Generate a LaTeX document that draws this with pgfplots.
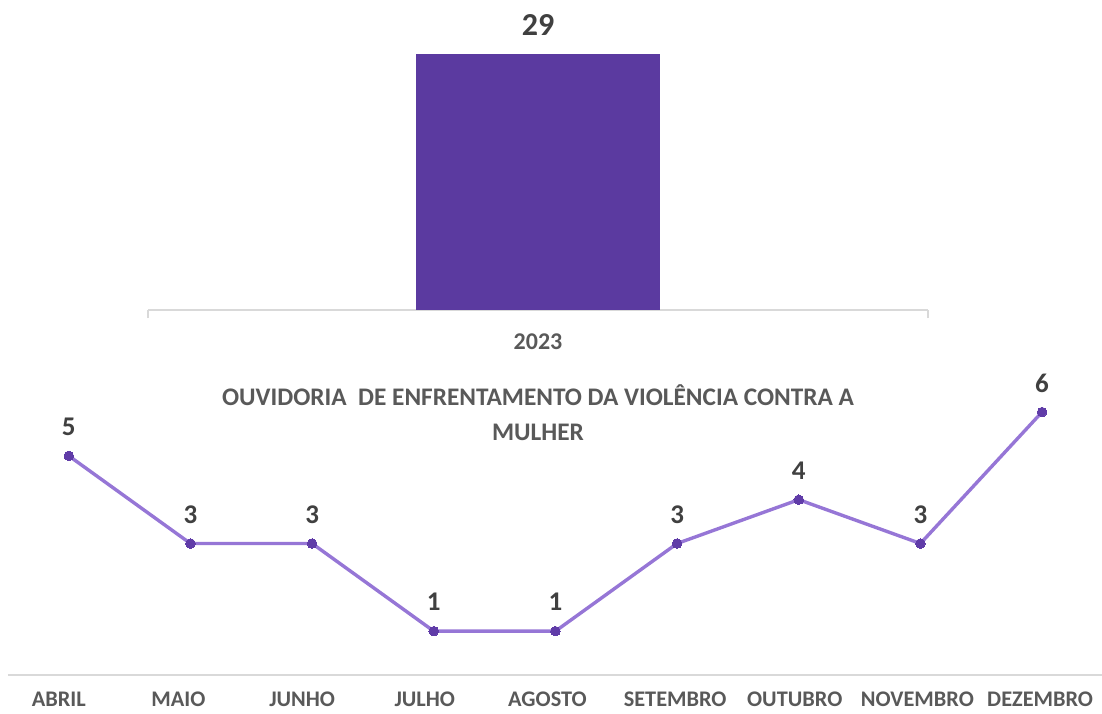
\documentclass[border=0pt]{standalone}
\usepackage{fontspec}
\setmainfont{Carlito}
\usepackage{pgfplots}
\pgfplotsset{compat=1.18}
\definecolor{barcol}{RGB}{91,58,160}
\definecolor{linecol}{RGB}{150,118,214}
\definecolor{markcol}{RGB}{96,60,168}
\definecolor{axisgray}{RGB}{217,217,217}
\definecolor{labgray}{RGB}{89,89,89}
\definecolor{valgray}{RGB}{64,64,64}
\begin{document}
\begin{tikzpicture}[x=1pt,y=1pt]
\useasboundingbox (0,0) rectangle (1102,713);
% top bar chart
\begin{axis}[
  at={(538pt,403pt)}, anchor=origin,
  scale only axis, width=780pt, height=256pt,
  xmin=-1, xmax=1, ymin=0, ymax=29,
  clip=false,
  /pgf/number format/assume math mode=true,
  axis x line*=bottom, axis y line=none,
  x axis line style={draw=axisgray, line width=1.3pt},
  xtick={0}, xticklabels={2023},
  major tick length=0pt,
  extra x ticks={-1,1}, extra x tick labels={},
  extra x tick style={major tick length=8pt, tick align=outside, tick style={draw=axisgray, line width=1.3pt}},
  xticklabel style={font=\fontsize{24}{24}\selectfont\bfseries, text=labgray, anchor=center, yshift=-32pt},
  ytick=\empty,
  nodes near coords,
  every node near coord/.append style={font=\fontsize{32}{32}\selectfont\bfseries, text=valgray, anchor=center, yshift=29pt},
]
\addplot[ybar, bar width=244pt, fill=barcol, draw=none] coordinates {(0,29)};
\end{axis}
% title
\node[font=\fontsize{25.3}{35}\selectfont\bfseries, text=labgray, align=center] at (538,300.5)
  {OUVIDORIA\ \ DE ENFRENTAMENTO DA VIOLÊNCIA CONTRA A\\MULHER};
% bottom line chart
\begin{axis}[
  at={(68.8pt,38pt)}, anchor=origin,
  scale only axis, width=1095pt, height=263pt,
  xmin=-0.5, xmax=8.5, ymin=0, ymax=6,
  clip=false,
  /pgf/number format/assume math mode=true,
  axis x line*=bottom, axis y line=none,
  x axis line style={draw=axisgray, line width=1.3pt},
  xtick={-0.082,0.901,1.918,2.926,3.934,4.984,5.967,6.975,7.984},
  xticklabels={ABRIL,MAIO,JUNHO,JULHO,AGOSTO,SETEMBRO,OUTUBRO,NOVEMBRO,DEZEMBRO},
  major tick length=0pt,
  xticklabel style={font=\fontsize{22.3}{22.3}\selectfont\bfseries, text=labgray, anchor=center, inner sep=0pt, yshift=-24pt},
  ytick=\empty,
  nodes near coords,
  every node near coord/.append style={font=\fontsize{27}{27}\selectfont\bfseries, text=valgray, anchor=center, yshift=29pt},
]
\addplot[color=linecol, line width=3.4pt, mark=*, mark size=4.8pt, mark options={fill=markcol, draw=markcol, line width=0pt}]
  coordinates {(0,5) (1,3) (2,3) (3,1) (4,1) (5,3) (6,4) (7,3) (8,6)};
\end{axis}
\end{tikzpicture}
\end{document}
